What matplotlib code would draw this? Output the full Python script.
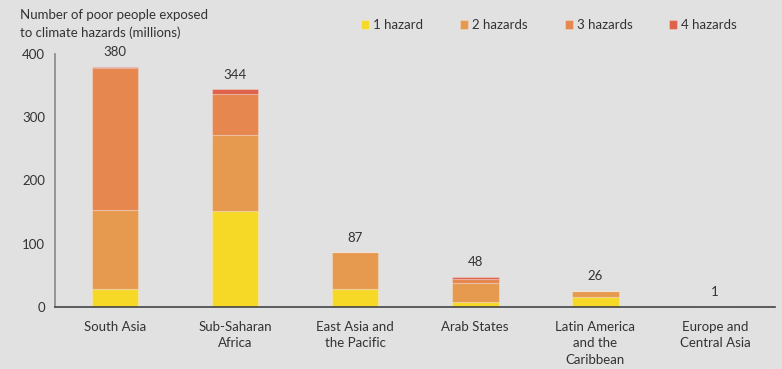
import numpy as np
import matplotlib.pyplot as plt

regions = ['South Asia', 'Sub-Saharan\nAfrica', 'East Asia and\nthe Pacific',
           'Arab States', 'Latin America\nand the\nCaribbean', 'Europe and\nCentral Asia']
one_hazard = [28, 151, 29, 8, 16, 0]
two_hazards = [126, 121, 58, 30, 10, 1]
three_hazards = [224, 65, 0, 6, 0, 0]
four_hazards = [2, 7, 0, 4, 0, 0]
totals = [380, 344, 87, 48, 26, 1]

series = [('1 hazard', one_hazard, '#f6d927'),
          ('2 hazards', two_hazards, '#e69a50'),
          ('3 hazards', three_hazards, '#e5874f'),
          ('4 hazards', four_hazards, '#e0624b')]

bg = '#e1e1e1'
txt = '#333333'
plt.rcParams['font.family'] = ['Lato', 'DejaVu Sans']

fig = plt.figure(figsize=(7.82, 3.69), dpi=100, facecolor=bg)
ax = fig.add_axes([0.0703, 0.168, 0.921, 0.686], facecolor=bg)

x = np.arange(len(regions))
bottom = np.zeros(len(regions))
for name, vals, col in series:
    ax.bar(x, vals, width=0.39, bottom=bottom, color=col,
           edgecolor=(1, 1, 1, 0.25), linewidth=0.8, label=name)
    bottom += np.array(vals)

for xi, t in zip(x, totals):
    ax.annotate(str(t), (xi, t), xytext=(0, 6), textcoords='offset points',
                ha='center', va='bottom', fontsize=9.5, color=txt)

ax.set_xlim(-0.5, 5.5)
ax.set_ylim(0, 400)
ax.set_yticks([0, 100, 200, 300, 400])
ax.set_xticks(x)
ax.set_xticklabels(regions, fontsize=9.5, color=txt, linespacing=1.45)
ax.tick_params(axis='y', length=0, pad=7, labelsize=9.5, labelcolor=txt)
ax.tick_params(axis='x', length=0, pad=10)

for s in ['top', 'right']:
    ax.spines[s].set_visible(False)
ax.spines['left'].set_color('#888888')
ax.spines['left'].set_linewidth(1.2)
ax.spines['bottom'].set_color('#444444')
ax.spines['bottom'].set_linewidth(1.2)

fig.text(0.026, 0.975, 'Number of poor people exposed\nto climate hazards (millions)',
         ha='left', va='top', fontsize=9.5, color=txt, linespacing=1.45)

fig.legend(loc='center left', bbox_to_anchor=(0.447, 0.932), ncol=4,
           frameon=False, fontsize=9.5, handlelength=0.6, handleheight=0.7,
           handletextpad=0.3, columnspacing=2.8, labelcolor=txt)

fig.savefig('out.png', dpi=100, facecolor=bg)
